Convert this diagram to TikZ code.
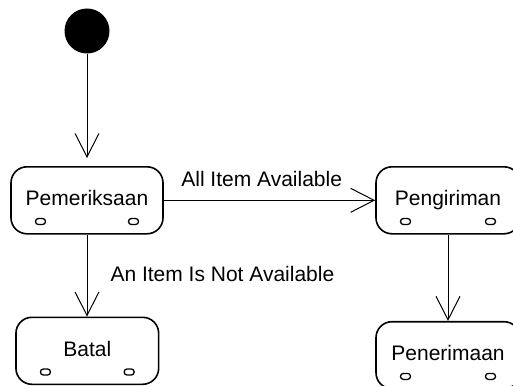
\documentclass[tikz,border=0pt]{standalone}
\usepackage{fontspec}
\setmainfont{Liberation Sans}
\usetikzlibrary{arrows.meta,calc}
\tikzset{
  state/.style={draw, line width=1.6pt, rounded corners=16pt, inner sep=0pt,
    minimum height=67pt, text height=15pt, text depth=4pt,
    font=\fontsize{21}{25}\selectfont,
    path picture={
      \draw[line width=1.3pt, rounded corners=2.9pt]
        ($(path picture bounding box.south west)+(24.5,-9.3)$) rectangle +(10,-6);
      \draw[line width=1.3pt, rounded corners=2.9pt]
        ($(path picture bounding box.south east)+(-34.5,-9.3)$) rectangle +(10,-6);
    }},
  trans/.style={line width=1pt, -{Straight Barb[length=23.5pt,width=24pt,line width=1pt]}},
  lbl/.style={font=\fontsize{21}{25}\selectfont, inner sep=0pt, text height=15pt, text depth=4pt}
}
\begin{document}
\begin{tikzpicture}[x=1pt,y=-1pt]
\clip (0,0) rectangle (513,385);
\fill[white] (0,0) rectangle (513,385);
\node[circle, fill=black, minimum size=45pt, inner sep=0pt] (start) at (87,31) {};
\node[state, minimum width=152pt] (pem) at (87,200.3) {Pemeriksaan};
\node[state, minimum width=144pt] (peng) at (448,200.3) {Pengiriman};
\node[state, minimum width=142.7pt] (batal) at (87.3,350.8) {Batal};
\node[state, minimum width=144pt] (pener) at (448,355.2) {Penerimaan};
\draw[trans, shorten >=8pt] (start) -- (pem);
\draw[trans] (pem) -- node[lbl, pos=0.463, yshift=19pt] (l1) {All Item Available} (peng);
\draw[trans] (pem.south) -- node[lbl, pos=0.504, anchor=west, xshift=23pt] (l2) {An Item Is Not Available} (batal.north -| pem.south);
\draw[trans] (peng) -- (pener);
\end{tikzpicture}
\end{document}
